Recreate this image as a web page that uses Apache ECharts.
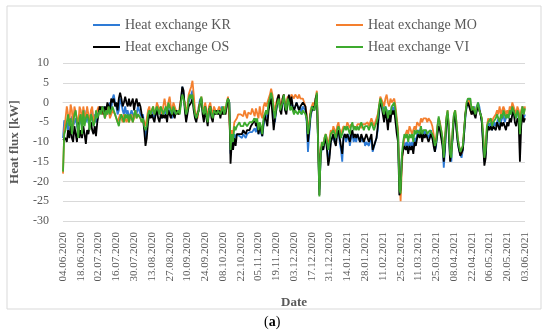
<!DOCTYPE html>
<html><head><meta charset="utf-8">
<script src="https://cdn.jsdelivr.net/npm/echarts@6/dist/echarts.min.js"></script>
<style>html,body{margin:0;padding:0;background:#fff}#c{width:550px;height:335px}</style>
</head><body><div id="c"></div>
<script>
const startDate = [2020, 6, 4];
const dayCount = 365;
const tickLabels = ["04.06.2020","18.06.2020","02.07.2020","16.07.2020","30.07.2020","13.08.2020","27.08.2020","10.09.2020","24.09.2020","08.10.2020","22.10.2020","05.11.2020","19.11.2020","03.12.2020","17.12.2020","31.12.2020","14.01.2021","28.01.2021","11.02.2021","25.02.2021","11.03.2021","25.03.2021","08.04.2021","22.04.2021","06.05.2021","20.05.2021","03.06.2021"];
const yTicks = [10, 5, 0, -5, -10, -15, -20, -25, -30];
const seriesNames = ["Heat exchange KR", "Heat exchange MO", "Heat exchange OS", "Heat exchange VI"];

const kr = [
-9,-4.5,-6,-5,-7,-4,-5,-3.5,-6,-5,
-4,-6,-7,-3,-5,-6,-4,-2,-5,-3,
-5,-6,-4,-2,-6,-3,-5,-4,-2,-1,
-2,-3,-1,-4,-2,-3,-1,0,-2,1,
2,0,-1,-3,-2,1,0,-2,-3,-1,
-3,-2,-4,-3,-2,-3,-4,-2,-3,-1,
-2,-3,-4,-3,-6,-9,-7,-4,-3,-2,
-3,-2,-4,-3,-1,-2,-3,-2,-4,-3,
-2,-3,-2,-1,-3,-2,-4,-3,-2,-3,
-2,-3,-2,0,4,2,-1,-4,-2,0,
1,2,3,-1,-3,-4,-3,-1,1,1.5,
-2,-4,-1,-3,-5,-2,-1,-3,-4,-2,
-3,-2,-2,-3,-2,-1,-2,-3,-2,-1,
1,0,-13,-9,-11,-8,-9,-8,-8,-8.5,
-8.5,-9,-8,-8.5,-9,-8,-8.5,-7.5,-8,-7.5,
-7,-6.5,-7.5,-6,-8,-7,-7.5,-8.5,-6,-4,
-2,-4,-1,1,2,-1,-3,-5,-2,0,
1,-1,-2,0,1,-2,-1,1,0,-1,
0,-1,-2,-1,0,-1,-2,-1,-3,-1,
-1,-2,-5,-12.5,-8,-4,-2,-1,-2,0,
2,1.5,-22,-14,-11,-12,-10,-9,-11,-15,
-13,-10,-9,-8,-10,-9,-8,-7,-10,-12,
-15,-9,-8,-10,-9,-8,-11,-9,-8,-10,
-9,-10,-8,-9,-10,-9,-10,-9,-11,-10,
-10,-11,-9,-10,-12.5,-12,-10,-9,-7,-3,
1,0,-1,-3,-1,-2,-4,-2,-3,-1,
-2,-1,-3,-5,-8,-21,-20,-14,-12,-10,
-11,-10,-12,-10,-11,-10,-12,-9,-10,-8,
-7,-8,-6,-9,-7,-8,-7,-8,-9,-8,
-7,-9,-10,-12.5,-11,-7,-4,-6,-8,-10,
-16.5,-12,-5,-2.5,-7,-14,-15,-8,-3,-2.5,
-6,-10,-12,-13,-14,-12,-8,-4,-1,0,
1,-1,-3,-2,-1,-3,-2,0,-1,-3,
-5,-10,-15,-13,-7,-5,-6,-5,-7,-6,
-5,-6,-5,-4,-6,-5,-4,-3,-5,-4,
-3,-4,-2,-3,-1,-2,-4,-3,-2,-4,
-5,-3,-1,-4,-3];

const mo = [
-18,-7,-4,-1,-3,-5,-0.5,-2,-6,-1,
-1,-4,-6,-1,-2,-5,-1,-3,-4,-1,
-3,-5,-2,-1,-5,-4,-3,-2,-1,-2,
-1,-3,-2,-4,-3,-1,-2,-4,-3,-2,
-2,-3,-4,-5,-4,-3,-4,-5,-3,-4,
-5,-4,-5,-4,-3,-5,-4,-2,-4,-3,
-3,-4,-5,-4,-5,-6,-4,-2,-1,-3,
-2,-1,-3,-2,0,-1,-2,-1,-3,-1,
1,-1,-2,0,1.5,-1,-2,0,-1,-2,
-2,-3,-1,1,2,1,0,-3,-1,2,
3,4,5.5,2,-2,-3,-4,-1,0,1.5,
-1,-3,0,-2,-4,-1,0,-2,-3,-1,
-2,-3,-2,-1,-2,-3,-2,-1,-3,0,
1.5,1,-10,-7,-8,-5,-5,-4,-3,-3.5,
-3,-2.5,-3.5,-2,-3,-4,-2.5,-2,-3,-1.5,
-2,-3.5,-1.5,-2,-4,-1,-3,-4,-1,0,
-1,0,1,2,3.5,2,-1,-2,0,1,
2,0,-1,1,2,-1,0,1.5,2,1,
2,1.5,1,2,1.5,1,2,1,1.5,1,
1,-1,-3,-7,-5,-2,-1,0,-1,1,
3,2.5,-21,-12,-10,-11,-9,-8,-9,-11,
-9,-7,-8,-6,-7,-8,-6,-5,-7,-8,
-7,-6,-5.5,-6.5,-5,-5.5,-6.5,-5.5,-5,-6,
-5.5,-6.5,-5.5,-5,-5.5,-6.5,-5.5,-5,-5.5,-6,
-5,-6,-5,-4,-5,-6,-5,-4,-3,-1,
1.5,1,0,-1,1,2,0,-1,1,0,
0,1,-1,-4,-7,-19,-25,-16,-11,-9,
-8,-7,-8,-6,-7,-8,-7,-6,-7,-5,
-5,-6,-4,-5,-4,-3.5,-4,-5,-4,-4.5,
-5,-6,-8,-10,-9,-6,-4,-5,-7,-9,
-13,-9,-4,-2,-6,-12,-13,-7,-3,-2,
-5,-9,-11,-12,-13,-11,-7,-3,0,0.5,
0.5,-2,-3,-1,-2,-3,-1,-0.5,-2,-3,
-4,-8,-13,-11,-6,-4,-5,-4,-5,-4,
-4,-3,-2,-3,-1,-3,-2,-1,-2,-3,
-2,-3,-1,-2,0,0.5,-2,-3,-1,-2,
-4,-2,-1,-3,-1];

const os = [
-9.5,-10,-9,-10,-7,-9,-6,-9,-10,-6,
-8,-10,-5,-9,-7,-9,-6,-8,-10.5,-7,
-8,-6,-5,-7,-8,-6,-8.5,-5,-3,-1,
-2,-1,-3,-1,-2,0,-1,-2,1,0,
1,-1,0,-2,1,2.5,1,-1,0,1.5,
0,-1,1,-1,0,1,-2,0,1,-1,
0,-1,-3,-4,-7,-11,-9,-5,-3,-4,
-3,-4,-5,-3,-2,-4,-5,-3,-4,-3,
-4,-3,-5,-2,-3,-4,-2,-3,-4,-2,
-2,-3,-2,1,4,3,-2,-5,-3,-1,
-1,0,1,-2,-4,-5,-3,-2,0,1,
-3,-5,-1,-4,-6,-2,-1,-4,-5,-2,
-3,-2,-3,-2,-4,-2,-3,-2,-3,-1,
1,0,-15.5,-10,-12,-9,-11,-8,-7.5,-8,
-7.5,-8,-7,-7.5,-8,-7,-7.5,-7,-6,-6.5,
-5,-4,-6,-5,-8,-6,-7,-8.5,-5,-3,
-3,-6,-2,0,1,-3,-7,-4,-2,1,
2,-2,-3,1,2,-2,-3,0,2,-1,
1.5,-1,-2,-1,0,-1,-2,-1,-1.5,0,
0,-1,-4,-10,-7,-3,-2,-1,-2,1,
2,1.5,-23.5,-13,-11,-12,-10,-9,-12,-16,
-14,-10,-9,-8,-10,-11,-8,-7,-9,-11,
-13,-9,-8,-9,-8,-9,-10,-8,-7,-9,
-8,-9,-8,-9,-10,-8,-9,-10,-9,-8,
-9,-10,-9,-8,-12,-11.5,-10,-9,-6,-2,
0.5,-1,-3,-5,-2,-4,-7,-3,-5,-2,
-3,-2,-5,-8,-10,-23.5,-22,-14,-12,-11,
-12,-11,-13,-11,-12,-11,-13,-10,-11,-9,
-8,-9,-7,-10,-8,-9,-8,-9,-10,-9,
-8,-9,-11,-12.5,-12,-8,-6,-7,-9,-11,
-15,-11,-5,-3,-8,-15,-15.5,-9,-4,-3,
-7,-10,-12,-13.5,-14,-12,-8,-3,-1,0,
0,-2,-3,-2,-3,-4,-2,-1,-2,-3,
-5,-11,-16,-14,-8,-6,-7,-6,-7,-6,
-6,-7,-5,-6,-7,-5,-6,-5,-6,-7,
-5,-6,-4,-5,-3,-2,-5,-6,-4,-5,
-15,-6,-3,-5,-4];

const vi = [
-17.5,-8,-7,-5,-3,-6,-4,-8,-5,-3,
-2,-5,-9,-4,-3,-8,-2,-6,-4,-3,
-4,-7,-3,-4,-6,-5,-2,-4,-3,-2,
-3,-1,-2,-4,-2,-3,-1,-3,-2,-1,
-1,-3,-4,-5,-6,-4,-3,-4,-5,-3,
-4,-3,-5,-3,-4,-5,-3,-2,-4,-3,
-3,-4,-5,-4,-6,-7,-6,-3,-2,-3,
-2,-1,-3,-2,-1,-2,-3,-1,-2,-3,
-2,-1,-3,0,-1,-2,-3,-1,-2,-3,
-3,-2,-3,0,2,1,-1,-3,-2,1,
2,1,2,-1,-3,-4,-3,-2,0,1.5,
-2,-3,-1,-3,-5,-2,-1,-3,-4,-2,
-2,-3,-2,-2,-3,-2,-1,-3,-2,0,
1,0,-12,-8,-10,-6,-7,-6,-5.5,-5,
-6,-5.5,-6,-5,-5.5,-6,-5.5,-5,-4.5,-5,
-5,-4,-5,-4,-7,-5,-6,-8,-4,-3,
-2,-3,0,1,2.5,1,-2,-4,-1,0,
1,-2,-1,0,2,-1,-2,1,0,-2,
-1,-2,-3,-2,-2.5,-3,-2,-2.5,-3,-2,
-2,-3,-4,-8,-6,-3,-1,-1,-2,0,
2.5,2,-23.8,-13,-10,-11,-9,-8,-10,-12,
-10,-8,-8,-7,-8,-9,-7,-6,-7,-9,
-9,-7,-6,-7,-6,-7,-8,-6,-5,-7,
-6,-7,-6,-7,-6,-5,-6,-7,-6,-6,
-6,-7,-6,-5,-6,-7,-6,-5,-4,-1,
1,0,-2,-3,-1,-2,-4,-2,-3,-1,
-1,0,-2,-5,-8,-22,-23,-13,-10,-8,
-9,-8,-10,-8,-9,-8,-10,-7,-8,-7,
-7,-8,-6,-8,-7,-7.5,-7,-8,-8,-7,
-7,-8,-9,-11,-10,-6,-3.5,-5.5,-7,-9,
-14,-10,-4,-2,-6,-13,-14,-7,-3,-2,
-5,-9,-11,-12.5,-13,-11,-7,-3,0,1,
1.5,1,-2,-1,-2,-3,-1,0,-2,-3,
-4,-8,-14,-12,-6,-5,-5,-4,-6,-5,
-5,-4,-3,-4,-5,-3,-4,-2,-3,-4,
-3,-4,-2,-3,-1,-1,-3,-4,-2,-3,
-8,-3,-1,-3,-1.5];

const colors = ["#2E7BD6", "#F47F2E", "#000000", "#3DAA2E"];

function pad(n){ return (n < 10 ? "0" : "") + n; }
const categories = [];
for (let i = 0; i < dayCount; i++) {
  const d = new Date(Date.UTC(startDate[0], startDate[1] - 1, startDate[2] + i));
  categories.push(pad(d.getUTCDate()) + "." + pad(d.getUTCMonth() + 1) + "." + d.getUTCFullYear());
}

const FONT = "Liberation Serif";
const GREY = "#595959";
const chart = echarts.init(document.getElementById("c"), null, {renderer: "canvas"});
const allData = [kr, mo, os, vi];
const legendPos = [[93, 18], [336, 18], [93, 40], [336, 40]];

chart.setOption({
  animation: false,
  backgroundColor: "#fff",
  color: colors,
  grid: {left: 62, right: 25, top: 63, bottom: 114, containLabel: false},
  legend: seriesNames.map((n, i) => ({
    data: [n], left: legendPos[i][0], top: legendPos[i][1], icon: "rect",
    itemWidth: 27, itemHeight: 2, padding: 0,
    textStyle: {fontFamily: FONT, fontSize: 14, color: GREY}
  })),
  xAxis: {
    type: "category", data: categories, boundaryGap: false,
    name: "Date", nameLocation: "middle", nameGap: 75,
    nameTextStyle: {fontFamily: FONT, fontSize: 13, fontWeight: "bold", color: GREY},
    axisLine: {show: true, lineStyle: {color: "#D9D9D9"}},
    axisTick: {show: false},
    axisLabel: {
      rotate: 90, margin: 11, fontFamily: FONT, fontSize: 11, color: GREY,
      interval: (idx, val) => tickLabels.indexOf(val) >= 0
    }
  },
  yAxis: {
    type: "value", min: yTicks[yTicks.length - 1], max: yTicks[0], interval: 5,
    name: "Heat flux [kW]", nameLocation: "middle", nameGap: 42,
    nameTextStyle: {fontFamily: FONT, fontSize: 13, fontWeight: "bold", color: GREY},
    axisLine: {show: false}, axisTick: {show: false},
    axisLabel: {margin: 14, fontFamily: FONT, fontSize: 12, color: GREY},
    splitLine: {lineStyle: {color: "#D9D9D9", width: 1}}
  },
  series: seriesNames.map((n, i) => ({
    name: n, type: "line", data: allData[i], symbol: "none",
    lineStyle: {width: 1.8, color: colors[i]}, itemStyle: {color: colors[i]}
  })),
  graphic: [
    {type: "rect", shape: {x: 7, y: 6, width: 534, height: 303}, style: {fill: "none", stroke: "#D9D9D9", lineWidth: 1}, silent: true},
    {type: "text", left: 264, top: 315, style: {rich: {p: {fontFamily: FONT, fontSize: 14, fill: "#000"}, b: {fontFamily: FONT, fontSize: 14, fontWeight: "bold", fill: "#000"}}, text: "{p|(}{b|a}{p|)}"}}
  ]
});
</script></body></html>
